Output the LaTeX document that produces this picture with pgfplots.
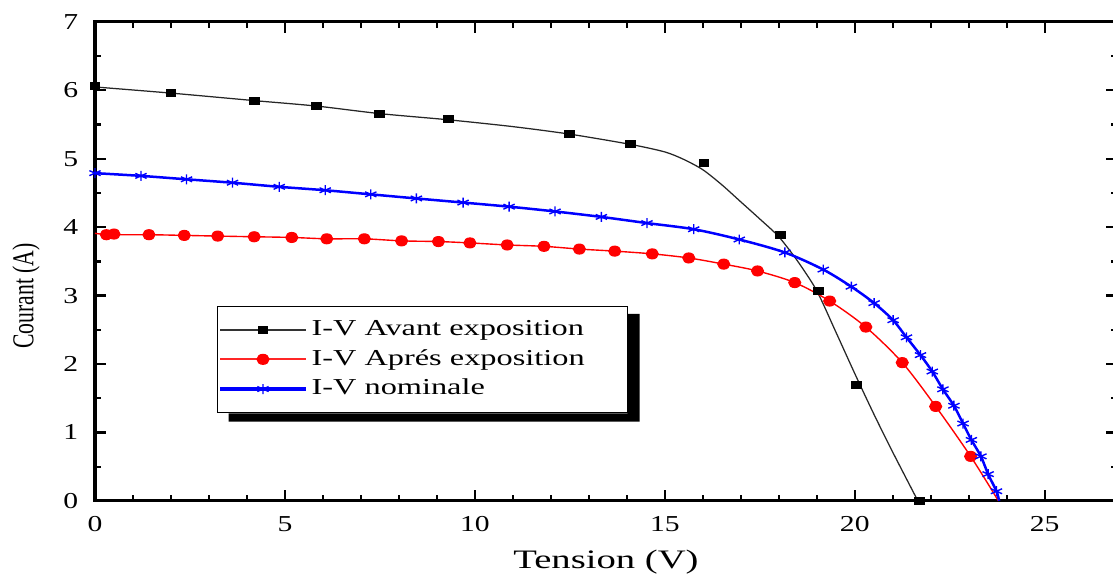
\documentclass[border=0pt]{standalone}
\usepackage{fontspec}
\setmainfont{Liberation Serif}
\usepackage{graphicx}
\usepackage{pgfplots}
\pgfplotsset{compat=1.18}

\pgfplotstableread{
x y
0 6.05
2 5.96
4.2 5.85
5.84 5.77
7.5 5.66
9.3 5.57
11 5.47
12.5 5.36
14.1 5.21
15.0 5.10
15.5 4.99
16.0 4.84
16.5 4.62
17.0 4.37
17.5 4.12
18.0 3.86
18.5 3.50
19.0 3.07
19.5 2.47
20.0 1.86
20.5 1.27
21.0 0.71
21.66 0
}\avantline

\pgfplotstableread{
x y
0 6.06
2.0 5.96
4.2 5.85
5.84 5.77
7.5 5.65
9.3 5.58
12.5 5.36
14.1 5.21
16.03 4.94
18.05 3.88
19.05 3.07
20.05 1.69
21.7 0.0
}\avantmarks

\pgfplotstableread{
x y
0 3.91
0.4 3.89
1.42 3.89
2.35 3.88
3.23 3.87
4.19 3.86
5.18 3.85
6.10 3.83
7.09 3.83
8.07 3.80
9.04 3.79
9.87 3.77
10.85 3.74
11.82 3.72
12.75 3.68
13.68 3.65
14.67 3.61
15.63 3.55
16.55 3.46
17.44 3.36
18.42 3.19
19.34 2.92
20.29 2.54
21.25 2.02
22.13 1.38
23.05 0.65
23.78 0
}\apresline

\pgfplotstableread{
x y
0.3 3.89
0.5 3.90
1.42 3.89
2.35 3.88
3.23 3.87
4.19 3.86
5.18 3.85
6.10 3.83
7.09 3.83
8.07 3.80
9.04 3.79
9.87 3.77
10.85 3.74
11.82 3.72
12.75 3.68
13.68 3.65
14.67 3.61
15.63 3.55
16.55 3.46
17.44 3.36
18.42 3.19
19.34 2.92
20.29 2.54
21.25 2.02
22.13 1.38
23.05 0.65
}\apresmarks

\pgfplotstableread{
x y
0 4.79
1.21 4.75
2.41 4.70
3.62 4.65
4.85 4.59
6.06 4.54
7.26 4.48
8.46 4.42
9.69 4.36
10.90 4.30
12.11 4.23
13.33 4.15
14.53 4.06
15.76 3.97
16.96 3.82
18.16 3.63
19.17 3.38
19.91 3.13
20.51 2.89
21.01 2.64
21.36 2.39
21.73 2.13
22.04 1.89
22.32 1.63
22.61 1.39
22.85 1.13
23.07 0.89
23.32 0.65
23.51 0.39
23.73 0.14
23.80 0
}\nomline

\pgfplotstableread{
x y
0 4.79
1.21 4.75
2.41 4.70
3.62 4.65
4.85 4.59
6.06 4.54
7.26 4.48
8.46 4.42
9.69 4.36
10.90 4.30
12.11 4.23
13.33 4.15
14.53 4.06
15.76 3.97
16.96 3.82
18.16 3.63
19.17 3.38
19.91 3.13
20.51 2.89
21.01 2.64
21.36 2.39
21.73 2.13
22.04 1.89
22.32 1.63
22.61 1.39
22.85 1.13
23.07 0.89
23.32 0.65
23.51 0.39
23.73 0.14
}\nommarks

\begin{document}
\begin{tikzpicture}
\path[use as bounding box] (-34.2pt,-26.3pt) rectangle (366.5pt,180.3pt);
\begin{axis}[
  scale only axis,
  width=367.9pt, height=172.4pt,
  xmin=0, xmax=26.9, ymin=0, ymax=7,
  clip=false,
  axis line style={line width=1.1pt},
  xtick={0,5,10,15,20,25},
  ytick={0,1,2,3,4,5,6,7},
  minor x tick num=4,
  minor y tick num=1,
  tick align=inside,
  major tick length=4pt,
  minor tick length=2pt,
  every tick/.style={line width=0.8pt, black},
  /pgf/number format/assume math mode=true,
  tick label style={font=\fontsize{8.2}{9}\selectfont},
  xticklabel={\scalebox{1.3}[1]{\pgfmathprintnumber{\tick}}},
  yticklabel={\scalebox{1.3}[1]{\pgfmathprintnumber{\tick}}},
  xticklabel style={yshift=-2pt},
  yticklabel style={xshift=-2.5pt},
  xlabel={\scalebox{1.45}[1]{Tension (V)}},
  ylabel={\scalebox{1}[1.4]{Courant (A)}},
  xlabel style={font=\fontsize{9.6}{11}\selectfont, at={(axis description cs:0.5,-0.127)}, anchor=center},
  ylabel style={font=\fontsize{7.8}{9}\selectfont, at={(axis description cs:-0.0674,0.428)}, anchor=center},
  legend style={
    name=leg,
    at={(axis description cs:0.119,0.407)}, anchor=north west,
    draw=black, line width=0.4pt, fill=white,
    font=\fontsize{8.2}{9}\selectfont,
    inner xsep=1pt, inner ysep=3pt,
    row sep=-0.5pt,
    cells={anchor=west},
  },
]
\addplot[black!85, line width=0.45pt, smooth, tension=0.45, forget plot] table[x=x,y=y] {\avantline};
\addplot[red, line width=0.5pt, smooth, tension=0.5, forget plot] table[x=x,y=y] {\apresline};
\addplot[blue, line width=0.9pt, smooth, tension=0.5, forget plot] table[x=x,y=y] {\nomline};
\addplot[only marks, mark=square*, mark size=1.25pt, mark options={xscale=1.4, draw=black, fill=black},
  legend image code/.code={
    \fill[black!80] (0pt,-0.2pt) rectangle (30.6pt,0.2pt);
    \fill[black] (13.55pt,-1.25pt) rectangle (17.05pt,1.25pt);
  }] table[x=x,y=y] {\avantmarks};
\addlegendentry{\scalebox{1.42}[1]{I-V Avant exposition}\hspace*{12.5pt}}
\addplot[only marks, mark=*, mark size=1.8pt, mark options={xscale=1.2, draw=red, fill=red},
  legend image code/.code={
    \fill[red!85] (0pt,-0.18pt) rectangle (30.6pt,0.18pt);
    \fill[red] (15.3pt,0pt) ellipse[x radius=2.16pt, y radius=1.8pt];
  }] table[x=x,y=y] {\apresmarks};
\addlegendentry{\scalebox{1.42}[1]{I-V Aprés exposition}}
\addplot[only marks, mark=asterisk, mark size=1.8pt, mark options={xscale=1.3, draw=blue, line width=0.5pt},
  legend image code/.code={
    \fill[blue] (0pt,-0.4pt) rectangle (30.6pt,0.4pt);
    \draw[draw=blue, line width=0.5pt, mark=asterisk, mark size=1.8pt, mark options={xscale=1.3, draw=blue}] plot coordinates {(15.3pt,0pt)};
  }] table[x=x,y=y] {\nommarks};
\addlegendentry{\scalebox{1.42}[1]{I-V nominale}}
\end{axis}
\fill[black] ([yshift=-2.9pt]leg.north east) -- ([xshift=4.3pt,yshift=-2.9pt]leg.north east) -- ([xshift=4.3pt,yshift=-2.9pt]leg.south east) -- ([xshift=4.3pt,yshift=-2.9pt]leg.south west) -- ([xshift=4.3pt]leg.south west) -- (leg.south east) -- cycle;
\end{tikzpicture}
\end{document}
